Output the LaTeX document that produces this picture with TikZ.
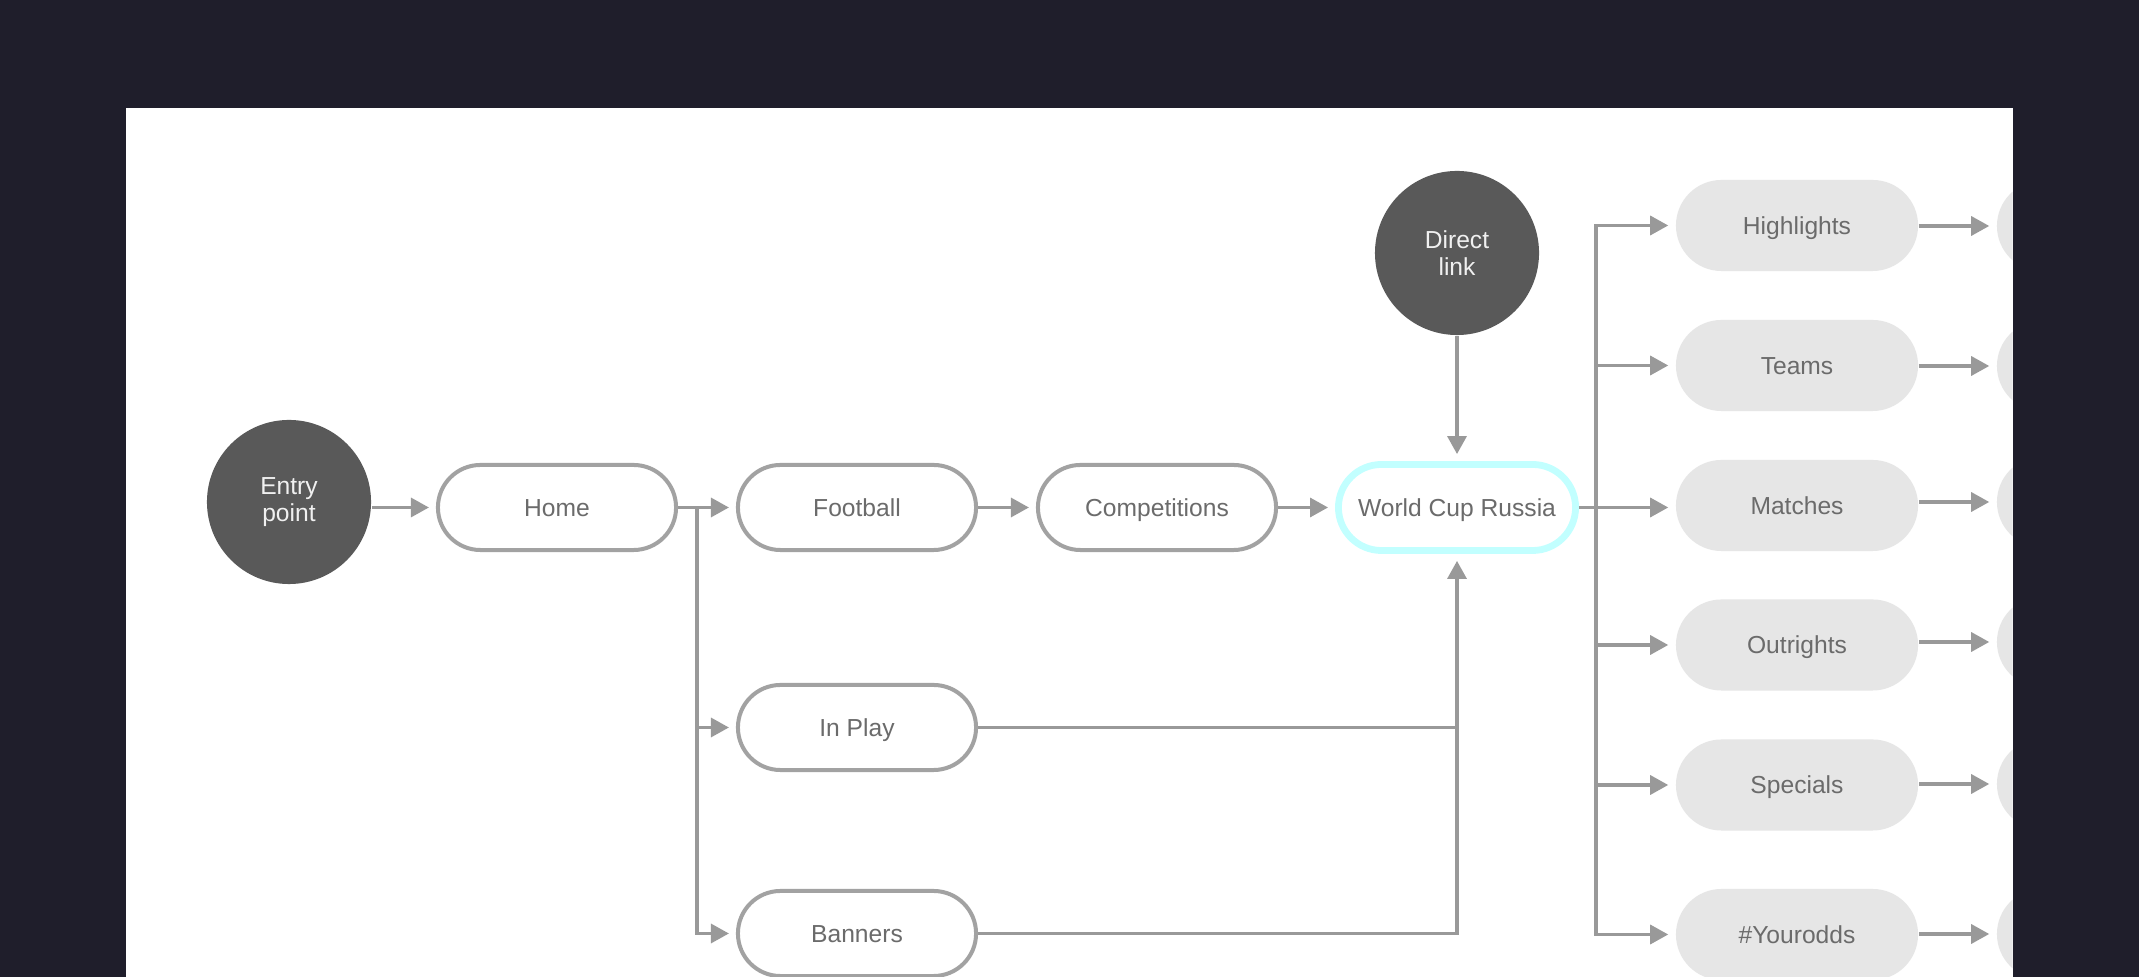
\documentclass[tikz,border=0pt]{standalone}
\usepackage{fontspec}
\setmainfont{Liberation Sans}
\usetikzlibrary{arrows.meta}
\definecolor{bgdark}{HTML}{1F1E2B}
\definecolor{linegray}{HTML}{999999}
\definecolor{edgegray}{HTML}{A2A2A2}
\definecolor{labelgray}{HTML}{6B6B6B}
\definecolor{dotfill}{HTML}{595959}
\definecolor{boxfill}{HTML}{E6E6E6}
\definecolor{cyanedge}{HTML}{C2FFFF}
\tikzset{%
  >={Triangle[length=0.18cm,width=0.19cm]},
  link/.style={draw=linegray,line width=0.033cm},%
  flow/.style={link,->,shorten >=0.07cm},%
  startdot/.style={circle,fill=dotfill,text=white!94!black,inner sep=0pt,
    minimum size=1.64cm,align=center},%
  pagebox/.style={rectangle,rounded corners=0.425cm,draw=edgegray,
    line width=0.04cm,fill=white,text=labelgray,minimum width=2.38cm,
    minimum height=0.85cm,text height=5pt,text depth=0pt},%
  selected page/.style={pagebox,draw=cyanedge,line width=0.068cm,
    minimum width=2.37cm,minimum height=0.86cm,rounded corners=0.43cm},%
  sectionbox/.style={rectangle,rounded corners=0.455cm,fill=boxfill,
    text=labelgray,minimum width=2.42cm,minimum height=0.91cm,
    text height=5pt,text depth=0pt}%
}

\begin{document}
\begin{tikzpicture}[x=0.01cm,y=-0.01cm,
  every node/.style={font=\fontsize{7}{7.5}\selectfont}]
	%% frame
	\fill[bgdark] (0,0) rectangle (2139,977);
	\fill[white] (125.5,108) rectangle (2012.5,977);
	\clip (125.5,108) rectangle (2012.5,977);
	
	%% entry points
	\node[startdot] (entry) at (289,502) {Entry\\point};
	\node[startdot] (direct) at (1457,253) {Direct\\link};
	
	%% main path
	\node[pagebox] (home) at (557,507.5) {Home};
	\node[pagebox] (football) at (857,507.5) {Football};
	\node[pagebox] (comp) at (1157,507.5) {Competitions};
	\node[selected page] (wcr) at (1457,507.5) {World Cup Russia};
	\node[pagebox] (inplay) at (857,727.5) {In Play};
	\node[pagebox] (banners) at (857,933.5) {Banners};
	
	%% sections of the competition page
	\node[sectionbox] (highlights) at (1797,225.5) {Highlights};
	\node[sectionbox] (teams) at (1797,365.5) {Teams};
	\node[sectionbox] (matches) at (1797,505.5) {Matches};
	\node[sectionbox] (outrights) at (1797,645) {Outrights};
	\node[sectionbox] (specials) at (1797,785) {Specials};
	\node[sectionbox] (yourodds) at (1797,934.5) {\#Yourodds};
	
	%% next column, cut off by the frame
	\node[sectionbox] (hlnext) at (2118,226) {};
	\node[sectionbox] (teamsnext) at (2118,366) {};
	\node[sectionbox] (matchesnext) at (2118,502) {};
	\node[sectionbox] (outnext) at (2118,642) {};
	\node[sectionbox] (specnext) at (2118,784) {};
	\node[sectionbox] (oddsnext) at (2118,934) {};
	
	\coordinate (split) at (697,507.5); % branch below home
	\coordinate (bus) at (1596,507.5); % branch right of the cup page
	
	%% connectors
	\draw[flow] (entry.east |- home) -- (home);
	\draw[flow] (home) -- (football);
	\draw[flow] (split) |- (inplay);
	\draw[flow] (split) |- (banners);
	\draw[flow] (football) -- (comp);
	\draw[flow] (comp) -- (wcr);
	\draw[flow] (direct) -- (wcr);
	\draw[link] (inplay) -- (inplay -| wcr);
	\draw[flow] (banners) -| (wcr);
	
	\draw[flow] (wcr) -- (wcr -| matches.west);
	\draw[flow] (bus) |- (highlights);
	\draw[flow] (bus) |- (teams);
	\draw[flow] (bus) |- (outrights);
	\draw[flow] (bus) |- (specials);
	\draw[flow] (bus) |- (yourodds);
	
	\draw[flow] (highlights.east |- hlnext) -- (hlnext);
	\draw[flow] (teams.east |- teamsnext) -- (teamsnext);
	\draw[flow] (matches.east |- matchesnext) -- (matchesnext);
	\draw[flow] (outrights.east |- outnext) -- (outnext);
	\draw[flow] (specials.east |- specnext) -- (specnext);
	\draw[flow] (yourodds.east |- oddsnext) -- (oddsnext);
\end{tikzpicture}
\end{document}
